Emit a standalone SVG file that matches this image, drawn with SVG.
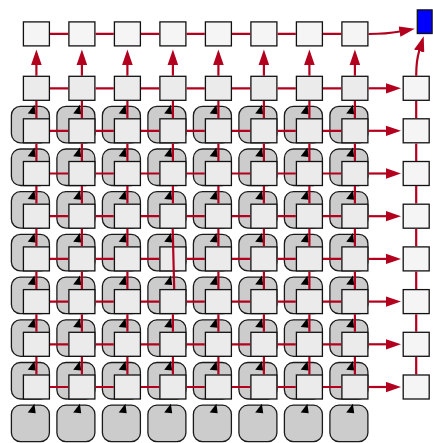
<svg xmlns="http://www.w3.org/2000/svg" xmlns:xlink="http://www.w3.org/1999/xlink" width="433" height="443" viewBox="0 0 433 443">
<style>
.bx{fill:#ebebeb;stroke:#111;stroke-width:1.3}
.lt{fill:#f5f5f5;stroke:#111;stroke-width:1.3}
.g{fill:#cccccc;stroke:#1a1a1a;stroke-width:1.3}
.e{fill:none;stroke:#b2001e;stroke-width:2.2}
.a{fill:none;stroke:#b2001e;stroke-width:2.2;marker-end:url(#ar)}
</style>
<defs>
<marker id="ar" markerUnits="userSpaceOnUse" markerWidth="16" markerHeight="11" refX="0.5" refY="5.3" orient="auto" viewBox="0 0 16 10.6"><path d="M0,0 L15.5,5.3 L0,10.6 Z" fill="#b2001e"/></marker>
<g id="gs"><rect x="-12" y="-12.5" width="38" height="36.5" rx="9" class="g"/><path d="M11,-14 L4.3,-5.2 L12.3,-4.5 Z" fill="#000"/></g>
<rect id="b" width="26" height="24" class="bx"/>
<rect id="l" width="26" height="24" class="lt"/>
</defs>
<g id="pools">
<g id="p0_0" transform="translate(23.4,118.8)"><use xlink:href="#gs"/></g>
<g id="p0_1" transform="translate(68.9,118.8)"><use xlink:href="#gs"/></g>
<g id="p0_2" transform="translate(114.4,118.8)"><use xlink:href="#gs"/></g>
<g id="p0_3" transform="translate(159.9,118.8)"><use xlink:href="#gs"/></g>
<g id="p0_4" transform="translate(205.4,118.8)"><use xlink:href="#gs"/></g>
<g id="p0_5" transform="translate(250.9,118.8)"><use xlink:href="#gs"/></g>
<g id="p0_6" transform="translate(296.4,118.8)"><use xlink:href="#gs"/></g>
<g id="p0_7" transform="translate(341.9,118.8)"><use xlink:href="#gs"/></g>
<g id="p1_0" transform="translate(23.4,161.5)"><use xlink:href="#gs"/></g>
<g id="p1_1" transform="translate(68.9,161.5)"><use xlink:href="#gs"/></g>
<g id="p1_2" transform="translate(114.4,161.5)"><use xlink:href="#gs"/></g>
<g id="p1_3" transform="translate(159.9,161.5)"><use xlink:href="#gs"/></g>
<g id="p1_4" transform="translate(205.4,161.5)"><use xlink:href="#gs"/></g>
<g id="p1_5" transform="translate(250.9,161.5)"><use xlink:href="#gs"/></g>
<g id="p1_6" transform="translate(296.4,161.5)"><use xlink:href="#gs"/></g>
<g id="p1_7" transform="translate(341.9,161.5)"><use xlink:href="#gs"/></g>
<g id="p2_0" transform="translate(23.4,204.2)"><use xlink:href="#gs"/></g>
<g id="p2_1" transform="translate(68.9,204.2)"><use xlink:href="#gs"/></g>
<g id="p2_2" transform="translate(114.4,204.2)"><use xlink:href="#gs"/></g>
<g id="p2_3" transform="translate(159.9,204.2)"><use xlink:href="#gs"/></g>
<g id="p2_4" transform="translate(205.4,204.2)"><use xlink:href="#gs"/></g>
<g id="p2_5" transform="translate(250.9,204.2)"><use xlink:href="#gs"/></g>
<g id="p2_6" transform="translate(296.4,204.2)"><use xlink:href="#gs"/></g>
<g id="p2_7" transform="translate(341.9,204.2)"><use xlink:href="#gs"/></g>
<g id="p3_0" transform="translate(23.4,246.9)"><use xlink:href="#gs"/></g>
<g id="p3_1" transform="translate(68.9,246.9)"><use xlink:href="#gs"/></g>
<g id="p3_2" transform="translate(114.4,246.9)"><use xlink:href="#gs"/></g>
<g id="p3_3" transform="translate(159.9,246.9)"><use xlink:href="#gs"/></g>
<g id="p3_4" transform="translate(205.4,246.9)"><use xlink:href="#gs"/></g>
<g id="p3_5" transform="translate(250.9,246.9)"><use xlink:href="#gs"/></g>
<g id="p3_6" transform="translate(296.4,246.9)"><use xlink:href="#gs"/></g>
<g id="p3_7" transform="translate(341.9,246.9)"><use xlink:href="#gs"/></g>
<g id="p4_0" transform="translate(23.4,289.6)"><use xlink:href="#gs"/></g>
<g id="p4_1" transform="translate(68.9,289.6)"><use xlink:href="#gs"/></g>
<g id="p4_2" transform="translate(114.4,289.6)"><use xlink:href="#gs"/></g>
<g id="p4_3" transform="translate(159.9,289.6)"><use xlink:href="#gs"/></g>
<g id="p4_4" transform="translate(205.4,289.6)"><use xlink:href="#gs"/></g>
<g id="p4_5" transform="translate(250.9,289.6)"><use xlink:href="#gs"/></g>
<g id="p4_6" transform="translate(296.4,289.6)"><use xlink:href="#gs"/></g>
<g id="p4_7" transform="translate(341.9,289.6)"><use xlink:href="#gs"/></g>
<g id="p5_0" transform="translate(23.4,332.3)"><use xlink:href="#gs"/></g>
<g id="p5_1" transform="translate(68.9,332.3)"><use xlink:href="#gs"/></g>
<g id="p5_2" transform="translate(114.4,332.3)"><use xlink:href="#gs"/></g>
<g id="p5_3" transform="translate(159.9,332.3)"><use xlink:href="#gs"/></g>
<g id="p5_4" transform="translate(205.4,332.3)"><use xlink:href="#gs"/></g>
<g id="p5_5" transform="translate(250.9,332.3)"><use xlink:href="#gs"/></g>
<g id="p5_6" transform="translate(296.4,332.3)"><use xlink:href="#gs"/></g>
<g id="p5_7" transform="translate(341.9,332.3)"><use xlink:href="#gs"/></g>
<g id="p6_0" transform="translate(23.4,375)"><use xlink:href="#gs"/></g>
<g id="p6_1" transform="translate(68.9,375)"><use xlink:href="#gs"/></g>
<g id="p6_2" transform="translate(114.4,375)"><use xlink:href="#gs"/></g>
<g id="p6_3" transform="translate(159.9,375)"><use xlink:href="#gs"/></g>
<g id="p6_4" transform="translate(205.4,375)"><use xlink:href="#gs"/></g>
<g id="p6_5" transform="translate(250.9,375)"><use xlink:href="#gs"/></g>
<g id="p6_6" transform="translate(296.4,375)"><use xlink:href="#gs"/></g>
<g id="p6_7" transform="translate(341.9,375)"><use xlink:href="#gs"/></g>
<g id="p7_0" transform="translate(23.4,417.7)"><use xlink:href="#gs"/></g>
<g id="p7_1" transform="translate(68.9,417.7)"><use xlink:href="#gs"/></g>
<g id="p7_2" transform="translate(114.4,417.7)"><use xlink:href="#gs"/></g>
<g id="p7_3" transform="translate(159.9,417.7)"><use xlink:href="#gs"/></g>
<g id="p7_4" transform="translate(205.4,417.7)"><use xlink:href="#gs"/></g>
<g id="p7_5" transform="translate(250.9,417.7)"><use xlink:href="#gs"/></g>
<g id="p7_6" transform="translate(296.4,417.7)"><use xlink:href="#gs"/></g>
<g id="p7_7" transform="translate(341.9,417.7)"><use xlink:href="#gs"/></g>
</g>
<g id="boxes">
<g id="t0"><use xlink:href="#l" x="23.4" y="21.9"/></g>
<g id="t1"><use xlink:href="#l" x="68.9" y="21.9"/></g>
<g id="t2"><use xlink:href="#l" x="114.4" y="21.9"/></g>
<g id="t3"><use xlink:href="#l" x="159.9" y="21.9"/></g>
<g id="t4"><use xlink:href="#l" x="205.4" y="21.9"/></g>
<g id="t5"><use xlink:href="#l" x="250.9" y="21.9"/></g>
<g id="t6"><use xlink:href="#l" x="296.4" y="21.9"/></g>
<g id="t7"><use xlink:href="#l" x="341.9" y="21.9"/></g>
<g id="out"><rect x="417.3" y="9.9" width="14.8" height="23.6" fill="#0000ff" stroke="#111" stroke-width="1.3"/></g>
<g id="r0"><use xlink:href="#b" x="23.4" y="76.3"/></g>
<g id="r1"><use xlink:href="#b" x="68.9" y="76.3"/></g>
<g id="r2"><use xlink:href="#b" x="114.4" y="76.3"/></g>
<g id="r3"><use xlink:href="#b" x="159.9" y="76.3"/></g>
<g id="r4"><use xlink:href="#b" x="205.4" y="76.3"/></g>
<g id="r5"><use xlink:href="#b" x="250.9" y="76.3"/></g>
<g id="r6"><use xlink:href="#b" x="296.4" y="76.3"/></g>
<g id="r7"><use xlink:href="#b" x="341.9" y="76.3"/></g>
<g id="c0_0"><use xlink:href="#b" x="23.4" y="118.8"/></g>
<g id="c0_1"><use xlink:href="#b" x="68.9" y="118.8"/></g>
<g id="c0_2"><use xlink:href="#b" x="114.4" y="118.8"/></g>
<g id="c0_3"><use xlink:href="#b" x="159.9" y="118.8"/></g>
<g id="c0_4"><use xlink:href="#b" x="205.4" y="118.8"/></g>
<g id="c0_5"><use xlink:href="#b" x="250.9" y="118.8"/></g>
<g id="c0_6"><use xlink:href="#b" x="296.4" y="118.8"/></g>
<g id="c0_7"><use xlink:href="#b" x="341.9" y="118.8"/></g>
<g id="c1_0"><use xlink:href="#b" x="23.4" y="161.5"/></g>
<g id="c1_1"><use xlink:href="#b" x="68.9" y="161.5"/></g>
<g id="c1_2"><use xlink:href="#b" x="114.4" y="161.5"/></g>
<g id="c1_3"><use xlink:href="#b" x="159.9" y="161.5"/></g>
<g id="c1_4"><use xlink:href="#b" x="205.4" y="161.5"/></g>
<g id="c1_5"><use xlink:href="#b" x="250.9" y="161.5"/></g>
<g id="c1_6"><use xlink:href="#b" x="296.4" y="161.5"/></g>
<g id="c1_7"><use xlink:href="#b" x="341.9" y="161.5"/></g>
<g id="c2_0"><use xlink:href="#b" x="23.4" y="204.2"/></g>
<g id="c2_1"><use xlink:href="#b" x="68.9" y="204.2"/></g>
<g id="c2_2"><use xlink:href="#b" x="114.4" y="204.2"/></g>
<g id="c2_3"><use xlink:href="#b" x="159.9" y="204.2"/></g>
<g id="c2_4"><use xlink:href="#b" x="205.4" y="204.2"/></g>
<g id="c2_5"><use xlink:href="#b" x="250.9" y="204.2"/></g>
<g id="c2_6"><use xlink:href="#b" x="296.4" y="204.2"/></g>
<g id="c2_7"><use xlink:href="#b" x="341.9" y="204.2"/></g>
<g id="c3_0"><use xlink:href="#b" x="23.4" y="246.9"/></g>
<g id="c3_1"><use xlink:href="#b" x="68.9" y="246.9"/></g>
<g id="c3_2"><use xlink:href="#b" x="114.4" y="246.9"/></g>
<g id="c3_3"><use xlink:href="#b" x="159.9" y="246.9"/></g>
<g id="c3_4"><use xlink:href="#b" x="205.4" y="246.9"/></g>
<g id="c3_5"><use xlink:href="#b" x="250.9" y="246.9"/></g>
<g id="c3_6"><use xlink:href="#b" x="296.4" y="246.9"/></g>
<g id="c3_7"><use xlink:href="#b" x="341.9" y="246.9"/></g>
<g id="c4_0"><use xlink:href="#b" x="23.4" y="289.6"/></g>
<g id="c4_1"><use xlink:href="#b" x="68.9" y="289.6"/></g>
<g id="c4_2"><use xlink:href="#b" x="114.4" y="289.6"/></g>
<g id="c4_3"><use xlink:href="#b" x="159.9" y="289.6"/></g>
<g id="c4_4"><use xlink:href="#b" x="205.4" y="289.6"/></g>
<g id="c4_5"><use xlink:href="#b" x="250.9" y="289.6"/></g>
<g id="c4_6"><use xlink:href="#b" x="296.4" y="289.6"/></g>
<g id="c4_7"><use xlink:href="#b" x="341.9" y="289.6"/></g>
<g id="c5_0"><use xlink:href="#b" x="23.4" y="332.3"/></g>
<g id="c5_1"><use xlink:href="#b" x="68.9" y="332.3"/></g>
<g id="c5_2"><use xlink:href="#b" x="114.4" y="332.3"/></g>
<g id="c5_3"><use xlink:href="#b" x="159.9" y="332.3"/></g>
<g id="c5_4"><use xlink:href="#b" x="205.4" y="332.3"/></g>
<g id="c5_5"><use xlink:href="#b" x="250.9" y="332.3"/></g>
<g id="c5_6"><use xlink:href="#b" x="296.4" y="332.3"/></g>
<g id="c5_7"><use xlink:href="#b" x="341.9" y="332.3"/></g>
<g id="c6_0"><use xlink:href="#b" x="23.4" y="375"/></g>
<g id="c6_1"><use xlink:href="#b" x="68.9" y="375"/></g>
<g id="c6_2"><use xlink:href="#b" x="114.4" y="375"/></g>
<g id="c6_3"><use xlink:href="#b" x="159.9" y="375"/></g>
<g id="c6_4"><use xlink:href="#b" x="205.4" y="375"/></g>
<g id="c6_5"><use xlink:href="#b" x="250.9" y="375"/></g>
<g id="c6_6"><use xlink:href="#b" x="296.4" y="375"/></g>
<g id="c6_7"><use xlink:href="#b" x="341.9" y="375"/></g>
<g id="s0"><use xlink:href="#l" x="403.2" y="76.3"/></g>
<g id="s1"><use xlink:href="#l" x="403.2" y="118.8"/></g>
<g id="s2"><use xlink:href="#l" x="403.2" y="161.5"/></g>
<g id="s3"><use xlink:href="#l" x="403.2" y="204.2"/></g>
<g id="s4"><use xlink:href="#l" x="403.2" y="246.9"/></g>
<g id="s5"><use xlink:href="#l" x="403.2" y="289.6"/></g>
<g id="s6"><use xlink:href="#l" x="403.2" y="332.3"/></g>
<g id="s7"><use xlink:href="#l" x="403.2" y="375"/></g>
</g>
<g id="connectors">
<path class="e" d="M50,33.9H68.3M95.5,33.9H113.8M141,33.9H159.3M186.5,33.9H204.8M232,33.9H250.3M277.5,33.9H295.8M323,33.9H341.3"/>
<path class="e" d="M50,88.3H68.3M95.5,88.3H113.8M141,88.3H159.3M186.5,88.3H204.8M232,88.3H250.3M277.5,88.3H295.8M323,88.3H341.3"/>
<path class="e" d="M50,130.8H68.3M95.5,130.8H113.8M141,130.8H159.3M186.5,130.8H204.8M232,130.8H250.3M277.5,130.8H295.8M323,130.8H341.3"/>
<path class="e" d="M50,173.5H68.3M95.5,173.5H113.8M141,173.5H159.3M186.5,173.5H204.8M232,173.5H250.3M277.5,173.5H295.8M323,173.5H341.3"/>
<path class="e" d="M50,216.2H68.3M95.5,216.2H113.8M141,216.2H159.3M186.5,216.2H204.8M232,216.2H250.3M277.5,216.2H295.8M323,216.2H341.3"/>
<path class="e" d="M50,258.9H68.3M95.5,258.9H113.8M141,258.9H159.3M186.5,258.9H204.8M232,258.9H250.3M277.5,258.9H295.8M323,258.9H341.3"/>
<path class="e" d="M50,301.6H68.3M95.5,301.6H113.8M141,301.6H159.3M186.5,301.6H204.8M232,301.6H250.3M277.5,301.6H295.8M323,301.6H341.3"/>
<path class="e" d="M50,344.3H68.3M95.5,344.3H113.8M141,344.3H159.3M186.5,344.3H204.8M232,344.3H250.3M277.5,344.3H295.8M323,344.3H341.3"/>
<path class="e" d="M50,387H68.3M95.5,387H113.8M141,387H159.3M186.5,387H204.8M232,387H250.3M277.5,387H295.8M323,387H341.3"/>
<path class="e" d="M36.4,100.9V118.2M36.4,143.4V160.9M36.4,186.1V203.6M36.4,228.8V246.3M36.4,271.5V289M36.4,314.2V331.7M36.4,356.9V374.4"/>
<path class="e" d="M81.9,100.9V118.2M81.9,143.4V160.9M81.9,186.1V203.6M81.9,228.8V246.3M81.9,271.5V289M81.9,314.2V331.7M81.9,356.9V374.4"/>
<path class="e" d="M127.4,100.9V118.2M127.4,143.4V160.9M127.4,186.1V203.6M127.4,228.8V246.3M127.4,271.5V289M127.4,314.2V331.7M127.4,356.9V374.4"/>
<path class="e" d="M172.9,100.9V118.2M172.9,143.4V160.9M172.9,186.1V203.6M172.7,228.8L174.2,289M172.9,314.2V331.7M172.9,356.9V374.4"/>
<path class="e" d="M218.4,100.9V118.2M218.4,143.4V160.9M218.4,186.1V203.6M218.4,228.8V246.3M218.4,271.5V289M218.4,314.2V331.7M218.4,356.9V374.4"/>
<path class="e" d="M263.9,100.9V118.2M263.9,143.4V160.9M263.9,186.1V203.6M263.9,228.8V246.3M263.9,271.5V289M263.9,314.2V331.7M263.9,356.9V374.4"/>
<path class="e" d="M309.4,100.9V118.2M309.4,143.4V160.9M309.4,186.1V203.6M309.4,228.8V246.3M309.4,271.5V289M309.4,314.2V331.7M309.4,356.9V374.4"/>
<path class="e" d="M354.9,100.9V118.2M354.9,143.4V160.9M354.9,186.1V203.6M354.9,228.8V246.3M354.9,271.5V289M354.9,314.2V331.7M354.9,356.9V374.4"/>
<path class="e" d="M416.2,100.9V118.2M416.2,143.4V160.9M416.2,186.1V203.6M416.2,228.8V246.3M416.2,271.5V289M416.2,314.2V331.7M416.2,356.9V374.4"/>
<path class="a" d="M36.4,75.7V64.5"/>
<path class="a" d="M81.9,75.7V64.5"/>
<path class="a" d="M127.4,75.7V64.5"/>
<path class="a" d="M172.9,75.7V64.5"/>
<path class="a" d="M218.4,75.7V64.5"/>
<path class="a" d="M263.9,75.7V64.5"/>
<path class="a" d="M309.4,75.7V64.5"/>
<path class="a" d="M354.9,75.7V64.5"/>
<path class="a" d="M368.5,88.3H386"/>
<path class="a" d="M368.5,130.8H386"/>
<path class="a" d="M368.5,173.5H386"/>
<path class="a" d="M368.5,216.2H386"/>
<path class="a" d="M368.5,258.9H386"/>
<path class="a" d="M368.5,301.6H386"/>
<path class="a" d="M368.5,344.3H386"/>
<path class="a" d="M368.5,387H386"/>
<path class="a" d="M368.5,34C382,34 392,33 400,31.5"/>
<path class="a" d="M416.2,75.7C416.2,65 417.3,57 419.3,50.5"/>
</g>
</svg>
